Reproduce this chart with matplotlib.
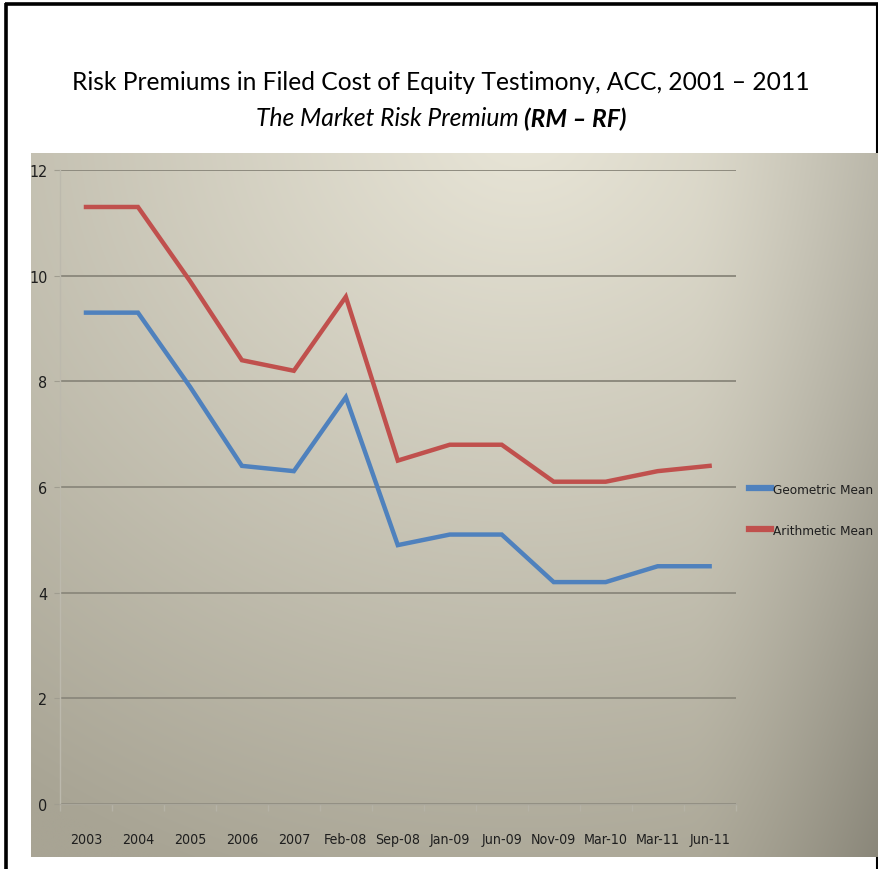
import numpy as np
import matplotlib
matplotlib.use("Agg")
import matplotlib.pyplot as plt
from matplotlib.lines import Line2D

# ---- data -------------------------------------------------------------
periods = ["2003", "2004", "2005", "2006", "2007", "Feb-08", "Sep-08",
           "Jan-09", "Jun-09", "Nov-09", "Mar-10", "Mar-11", "Jun-11"]
geometric_mean = [9.3, 9.3, 7.9, 6.4, 6.3, 7.7, 4.9, 5.1, 5.1, 4.2, 4.2, 4.5, 4.5]
arithmetic_mean = [11.3, 11.3, 9.9, 8.4, 8.2, 9.6, 6.5, 6.8, 6.8, 6.1, 6.1, 6.3, 6.4]
y_ticks = [0, 2, 4, 6, 8, 10, 12]

title_line = "Risk Premiums in Filed Cost of Equity Testimony, ACC, 2001 \u2013 2011"
subtitle_italic = "The Market Risk Premium"
subtitle_bold = "(RM \u2013 RF)"

W, H = 879, 870
fig = plt.figure(figsize=(W / 100, H / 100), dpi=100)
fig.patch.set_facecolor("white")
renderer = fig.canvas.get_renderer()

narrow = ["DejaVu Sans"]
title_font = ["Lato", "DejaVu Sans"]

def fx(px):
    return px / W

def fy(py):
    return 1 - py / H

def width_px(text):
    return text.get_window_extent(renderer).width

def fit_width(text, target_px):
    """Rescale a text's font size so that it spans target_px pixels."""
    text.set_fontsize(text.get_fontsize() * target_px / width_px(text))

# slide frame
frame = fig.add_axes([0, 0, 1, 1], zorder=0)
frame.set_xlim(0, W)
frame.set_ylim(H, 0)
frame.axis("off")
frame.plot([6.5, 6.5], [4, H], color="black", lw=2.6, solid_capstyle="butt")
frame.plot([5, 878], [4.5, 4.5], color="black", lw=2.6, solid_capstyle="butt")
frame.plot([877, 877], [4, H], color="black", lw=1.5, solid_capstyle="butt")

# chart background panel with a soft gradient
bg = fig.add_axes([fx(31), fy(858), fx(879) - fx(31), fy(154) - fy(858)], zorder=1)
nx, ny = 400, 400
u = np.linspace(0, 1, nx)[None, :]
v = np.linspace(0, 1, ny)[:, None]
t = np.clip(np.sqrt(((u - 0.58) / 1.05) ** 2 + ((v + 0.05) / 1.15) ** 2), 0, 1)
light = np.array([233, 230, 216]) / 255
dark = np.array([168, 164, 148]) / 255
img = light[None, None, :] + (dark - light)[None, None, :] * t[..., None]
edge = np.clip((u - 0.78) / 0.22, 0, 1) ** 1.4
edge_shade = 1 - (0.10 + 0.08 * v) * edge
img = img * edge_shade[..., None]
bg.imshow(img, aspect="auto", extent=[0, 1, 0, 1], interpolation="bilinear")
bg.axis("off")

# plot area
ax = fig.add_axes([fx(60), fy(805), fx(735.6) - fx(60), fy(171) - fy(805)], zorder=2)
ax.set_facecolor("none")
x = np.arange(len(periods))
ax.plot(x, geometric_mean, color="#4f81bd", lw=3.2, solid_joinstyle="miter",
        label="Geometric Mean", zorder=3)
ax.plot(x, arithmetic_mean, color="#c0504d", lw=3.2, solid_joinstyle="miter",
        label="Arithmetic Mean", zorder=3)

ax.set_xlim(-0.5, len(periods) - 0.5)
ax.set_ylim(0, 12)
ax.set_yticks(y_ticks)
ax.set_yticklabels([str(t) for t in y_ticks], family=narrow, fontsize=11.5,
                   color="#1e1e1e", stretch="condensed")
ax.set_xticks(x)
ax.set_xticklabels(periods, family=narrow, fontsize=10.2, color="#1e1e1e",
                   stretch="condensed")
ax.set_xticks(np.arange(-0.5, len(periods)), minor=True)
ax.tick_params(axis="x", which="major", length=0, pad=20)
ax.tick_params(axis="x", which="minor", length=5, color="#b5b2a6", width=1)
ax.tick_params(axis="y", which="major", length=4, color="#a09d90", pad=5)

ax.grid(axis="y", color="#8e8b7f", lw=1.4)
ax.set_axisbelow(True)
for side in ["top", "right"]:
    ax.spines[side].set_visible(False)
ax.spines["left"].set_color("#bcb9ad")
ax.spines["bottom"].set_color("#aaa79b")
ax.spines["left"].set_linewidth(1.0)
ax.spines["bottom"].set_linewidth(1.0)

# legend to the right of the plot
handles = [Line2D([], [], color="#4f81bd", lw=4.5),
           Line2D([], [], color="#c0504d", lw=4.5)]
leg = fig.legend(handles, ["Geometric Mean", "Arithmetic Mean"],
                 loc="center left", bbox_to_anchor=(fx(749), fy(511)),
                 frameon=False, prop={"family": narrow, "size": 9.7,
                                      "stretch": "condensed"},
                 handlelength=1.65, handletextpad=0.1, labelspacing=2.1,
                 borderpad=0, borderaxespad=0)
for txt in leg.get_texts():
    txt.set_color("#1e1e1e")

# titles
t1 = fig.text(fx(441), fy(83), title_line, ha="center", va="center",
              family=title_font, fontsize=17, color="black")
fit_width(t1, 737)
size = t1.get_fontsize()
t2 = fig.text(0, fy(119), subtitle_italic + " ", ha="left", va="center",
              family=title_font, fontsize=size, style="italic", color="black")
t3 = fig.text(0, fy(119), subtitle_bold, ha="left", va="center",
              family=title_font, fontsize=size, style="italic", weight="bold",
              color="black")
w2, w3 = width_px(t2), width_px(t3)
start = 441 - (w2 + w3) / 2
t2.set_x(fx(start))
t3.set_x(fx(start + w2))

fig.savefig("out.png", dpi=100)
